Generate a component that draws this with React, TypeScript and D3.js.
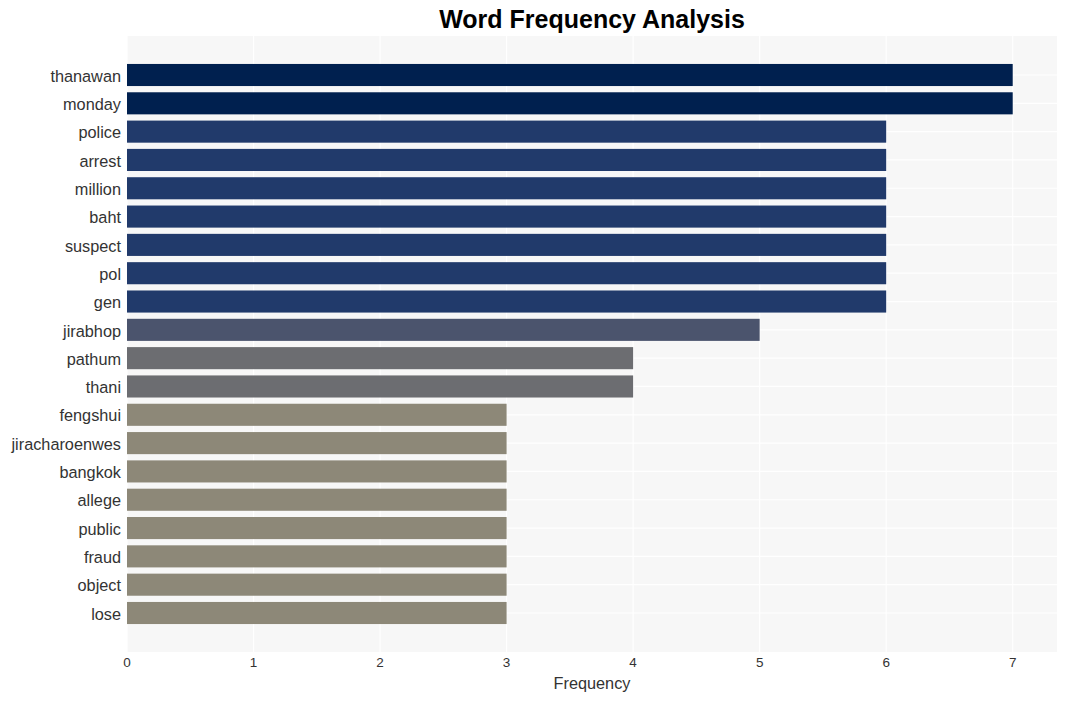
import React from "react";
import * as d3 from "d3";

const words = ["thanawan","monday","police","arrest","million","baht","suspect","pol","gen","jirabhop","pathum","thani","fengshui","jiracharoenwes","bangkok","allege","public","fraud","object","lose"];
const freqs = [7,7,6,6,6,6,6,6,6,5,4,4,3,3,3,3,3,3,3,3];
const colorByFreq: Record<number,string> = {7:"#00204f",6:"#213a6b",5:"#4b546d",4:"#6c6d71",3:"#8d8878"};
const xTicks = [0,1,2,3,4,5,6,7];

export default function App() {
  const W = 1066, H = 701;
  const left = 127, right = 1057, top = 36, bottom = 652;
  const x = d3.scaleLinear().domain([0, 7.35]).range([left, right]);
  const n = words.length;
  const y0 = 75, y1 = 613;
  const step = (y1 - y0) / (n - 1);
  const y = (i: number) => y0 + step * i;
  const bh = step * 0.78;
  return (
    <svg width={W} height={H} style={{position:"absolute",left:0,top:0,fontFamily:"Liberation Sans, Arial, sans-serif"}}>
      <rect x={0} y={0} width={W} height={H} fill="#fff"/>
      <rect x={left} y={top} width={right-left} height={bottom-top} fill="#f7f7f7"/>
      {xTicks.map(v => (
        <line key={"v"+v} x1={x(v)} x2={x(v)} y1={top} y2={bottom} stroke="#fff" strokeWidth={1.2}/>
      ))}
      {words.map((w,i) => (
        <line key={"h"+w} x1={left} x2={right} y1={y(i)} y2={y(i)} stroke="#fff" strokeWidth={1.2}/>
      ))}
      {words.map((w,i) => (
        <rect key={w} x={x(0)} y={y(i)-bh/2} width={x(freqs[i])-x(0)} height={bh} fill={colorByFreq[freqs[i]]}/>
      ))}
      {words.map((w,i) => (
        <text key={"l"+w} x={left-6} y={y(i)+1} dy="0.35em" textAnchor="end" fontSize={16.3} fill="#333">{w}</text>
      ))}
      {xTicks.map(t => (
        <text key={"t"+t} x={x(t)} y={667} textAnchor="middle" fontSize={13.5} fill="#333">{t}</text>
      ))}
      <text x={(left+right)/2} y={689} textAnchor="middle" fontSize={16.3} fill="#333">Frequency</text>
      <text x={(left+right)/2} y={28} textAnchor="middle" fontSize={25} fontWeight="bold" fill="#000">Word Frequency Analysis</text>
    </svg>
  );
}
